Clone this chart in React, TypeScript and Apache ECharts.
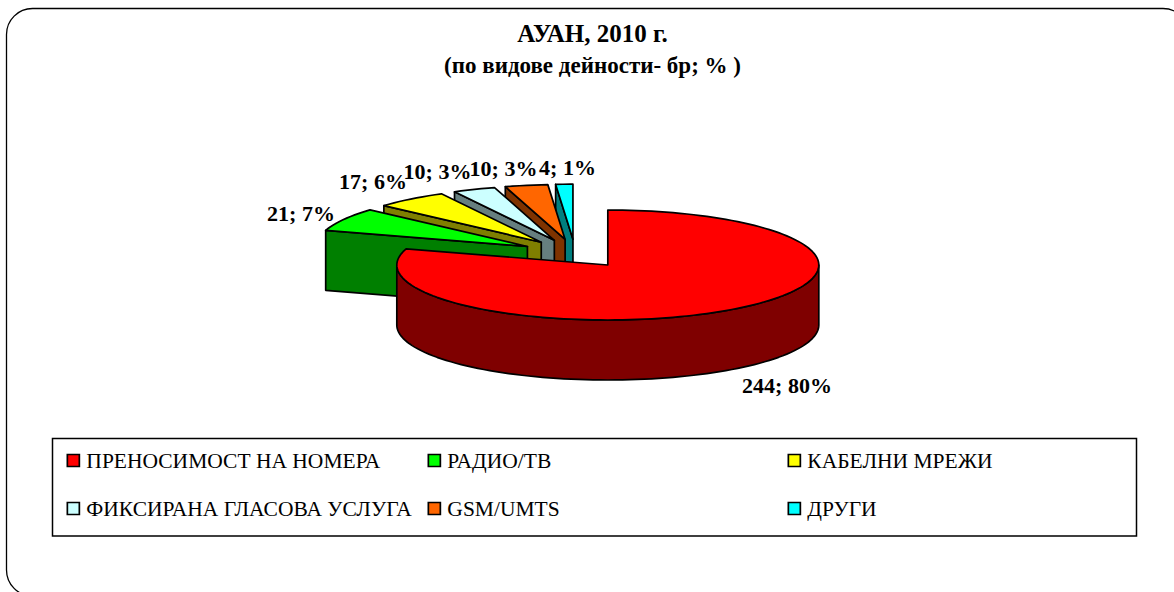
import React, { useEffect, useRef } from "react";
import * as echarts from "echarts";

const titleLines = ["АУАН, 2010 г.", "(по видове дейности- бр; % )"];
const categories = [
  "ПРЕНОСИМОСТ НА НОМЕРА",
  "РАДИО/ТВ",
  "КАБЕЛНИ МРЕЖИ",
  "ФИКСИРАНА ГЛАСОВА УСЛУГА",
  "GSM/UMTS",
  "ДРУГИ",
];
const values = [244, 21, 17, 10, 10, 4];
const percents = [80, 7, 6, 3, 3, 1];
const topColors = ["#FF0000", "#00FF00", "#FFFF00", "#CCFFFF", "#FF6600", "#00FFFF"];
const wallColors = ["#7F0000", "#007F00", "#7F7F00", "#667F7F", "#7F3300", "#007F7F"];

// layout
const CX = 575.2, CY = 253.5, RX = 211, RY = 55, DEPTH = 60, EXPLODE = 0.26;
const labelAnchors = [[787, 385], [301, 213], [373, 181], [437.5, 171], [503.5, 168], [567.5, 167]];
const legendCols = [66.5, 427.5, 787.5];
const legendRows = [449.5, 497.5];
const SERIF = "'Liberation Serif', 'Times New Roman', serif";
const total = values.reduce((a, b) => a + b, 0);
const RAD = Math.PI / 180;

function renderSlice(index: number) {
  return (_params: any, api: any) => {
    const before = values.slice(0, index).reduce((a, b) => a + b, 0);
    const start = (before / total) * 360;
    const end = start + (api.value(0) / total) * 360;
    const mid = ((start + end) / 2) * RAD;
    const cx = CX + EXPLODE * RX * Math.sin(mid);
    const cy = CY - EXPLODE * RY * Math.cos(mid);
    const pt = (deg: number, dz = 0) => [
      cx + RX * Math.sin(deg * RAD),
      cy - RY * Math.cos(deg * RAD) + dz,
    ];
    const stroke = { stroke: "#000", lineWidth: 1.7, lineJoin: "round" };
    const children: any[] = [];
    const wall = { fill: wallColors[index], ...stroke };
    if (start >= 180 && start < 360) {
      children.push({
        type: "polygon",
        shape: { points: [[cx, cy], pt(start), pt(start, DEPTH), [cx, cy + DEPTH]] },
        style: wall,
      });
    }
    const from = Math.max(start, 90);
    const to = Math.min(end, 270);
    if (to > from) {
      const upper: number[][] = [];
      const lower: number[][] = [];
      for (let a = from; a <= to + 1e-6; a += 2) {
        upper.push(pt(a));
        lower.unshift(pt(a, DEPTH));
      }
      children.push({ type: "polygon", shape: { points: upper.concat(lower) }, style: wall });
    }
    const top: number[][] = [[cx, cy]];
    for (let a = start; a < end; a += 2) top.push(pt(a));
    top.push(pt(end));
    children.push({
      type: "polygon",
      shape: { points: top },
      style: { fill: topColors[index], ...stroke },
    });
    children.push({
      type: "text",
      style: {
        text: `${values[index]}; ${percents[index]}%`,
        x: labelAnchors[index][0],
        y: labelAnchors[index][1],
        align: "center",
        verticalAlign: "middle",
        fontFamily: SERIF,
        fontWeight: "bold",
        fontSize: 22,
        fill: "#000",
      },
    });
    return { type: "group", children };
  };
}

export default function App() {
  const ref = useRef<HTMLDivElement>(null);
  useEffect(() => {
    const chart = echarts.init(ref.current!, null, { renderer: "svg" });
    chart.setOption({
      animation: false,
      backgroundColor: "#fff",
      title: {
        text: `{a|${titleLines[0]}}\n{b|${titleLines[1]}}`,
        left: 592.5,
        top: 17,
        padding: 0,
        textAlign: "center",
        textStyle: {
          rich: {
            a: { fontFamily: SERIF, fontWeight: "bold", fontSize: 25, lineHeight: 32, color: "#000" },
            b: { fontFamily: SERIF, fontWeight: "bold", fontSize: 23, lineHeight: 32, color: "#000" },
          },
        },
      },
      legend: categories.map((name, i) => ({
        data: [name],
        left: legendCols[i % 3],
        top: legendRows[Math.floor(i / 3)],
        icon: "rect",
        itemWidth: 12,
        itemHeight: 12,
        itemGap: 0,
        padding: 0,
        selectedMode: false,
        itemStyle: { borderColor: "#000", borderWidth: 1.7 },
        textStyle: { fontFamily: SERIF, fontSize: 21.5, color: "#000", padding: [0, 0, 0, 2] },
      })),
      graphic: [
        {
          type: "rect",
          z: -1,
          shape: { x: 6.5, y: 8.5, width: 1182.5, height: 587.5, r: 26 },
          style: { fill: "#fff", stroke: "#000", lineWidth: 1.3 },
        },
        {
          type: "rect",
          z: -1,
          shape: { x: 52.5, y: 438.5, width: 1084, height: 97.5 },
          style: { fill: "#fff", stroke: "#000", lineWidth: 1.5 },
        },
      ],
      series: categories.map((name, i) => ({
        type: "custom",
        name,
        coordinateSystem: "none",
        z: 10 - i,
        silent: true,
        itemStyle: { color: topColors[i] },
        data: [[values[i]]],
        renderItem: renderSlice(i),
      })),
    });
    return () => chart.dispose();
  }, []);
  return <div ref={ref} style={{ position: "fixed", left: 0, top: 0, width: 1174, height: 592 }} />;
}
